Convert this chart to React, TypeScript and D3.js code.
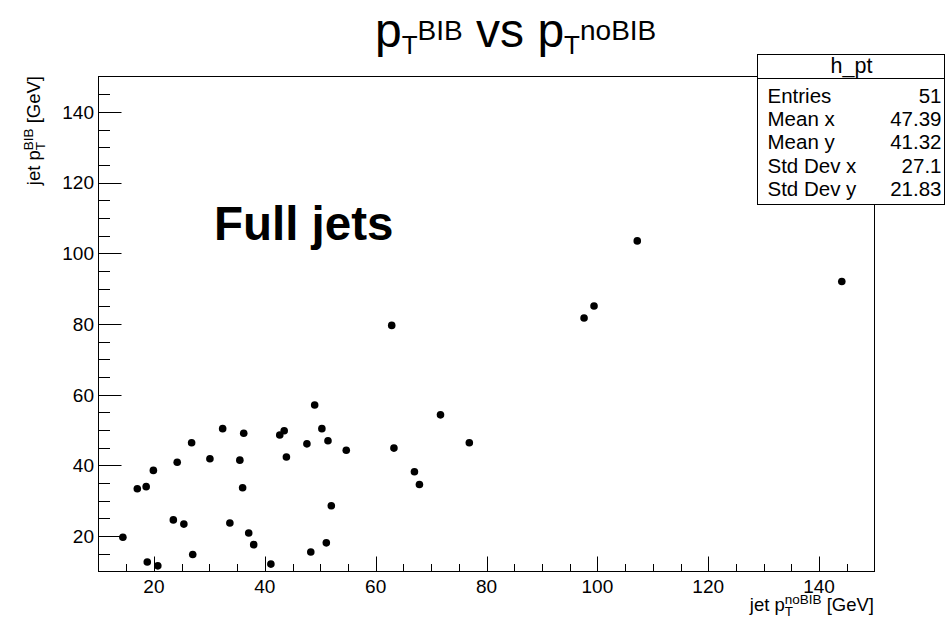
import React from "react";
import * as d3 from "d3";

// jet pT without BIB (x) and with BIB (y), in GeV
const ptNoBIB = [
  14.4, 17.0, 18.6, 19.9, 18.8, 20.7, 23.5, 24.2, 25.4, 26.8,
  27.0, 30.1, 32.4, 33.7, 35.5, 36.0, 36.2, 37.1, 38.0, 41.1,
  42.7, 43.5, 43.9, 47.6, 48.3, 49.0, 50.3, 51.1, 51.4, 52.0,
  54.7, 63.3, 62.9, 71.7, 76.9, 67.0, 67.9, 97.6, 99.4, 107.2,
  144.1,
];
const ptBIB = [
  19.7, 33.4, 34.0, 38.6, 12.7, 11.6, 24.6, 40.9, 23.4, 46.4,
  14.8, 41.9, 50.4, 23.7, 41.5, 33.7, 49.1, 20.9, 17.6, 12.1,
  48.6, 49.8, 42.4, 46.1, 15.5, 57.1, 50.4, 18.1, 47.0, 28.6,
  44.3, 44.9, 79.6, 54.3, 46.4, 38.2, 34.6, 81.7, 85.1, 103.5,
  92.0,
];
const majorTicks = [20, 40, 60, 80, 100, 120, 140];
const minorTicks = [15, 25, 30, 35, 45, 50, 55, 65, 70, 75, 85, 90, 95, 105, 110, 115, 125, 130, 135, 145];
const statLabels = ["Entries", "Mean x", "Mean y", "Std Dev x", "Std Dev y"];
const statValues = ["51", "47.39", "41.32", "27.1", "21.83"];
const statBaselines = [102.5, 126, 148.5, 172.5, 196];

const FONT = "'Liberation Sans', Arial, Helvetica, sans-serif";

export default function App() {
  const W = 946;
  const H = 620;
  const left = 98.5, right = 874.5, top = 76.5, bottom = 571.5;
  const x = d3.scaleLinear().domain([10, 150]).range([left, right]);
  const y = d3.scaleLinear().domain([10, 150]).range([bottom, top]);
  const yMaj = 23, yMin = 11.5, xMaj = 15, xMin = 7.5;
  const tickFs = 19;
  const titleFs = 18.5;
  const supFs = 13.5;
  const wT = 0.611 * supFs;
  const statFs = 20.5;

  return (
    <div style={{ position: "absolute", left: 0, top: 0 }}>
      <svg width={W} height={H} style={{ display: "block", background: "#fff" }} fontFamily={FONT}>
        <rect x={0} y={0} width={W} height={H} fill="#fff" />
        {/* frame */}
        <rect x={left} y={top} width={right - left} height={bottom - top} fill="none" stroke="#000" strokeWidth={1} />
        {/* y ticks */}
        {majorTicks.map((t) => (
          <g key={"ym" + t}>
            <line x1={left} x2={left + yMaj} y1={Math.round(y(t)) + 0.5} y2={Math.round(y(t)) + 0.5} stroke="#000" />
            <text x={94} y={y(t)} dy="0.36em" textAnchor="end" fontSize={tickFs} fill="#000">{t}</text>
          </g>
        ))}
        {minorTicks.map((t) => (
          <line key={"yn" + t} x1={left} x2={left + yMin} y1={Math.round(y(t)) + 0.5} y2={Math.round(y(t)) + 0.5} stroke="#000" />
        ))}
        {/* x ticks */}
        {majorTicks.map((t) => (
          <g key={"xm" + t}>
            <line x1={Math.round(x(t)) + 0.5} x2={Math.round(x(t)) + 0.5} y1={bottom} y2={bottom - xMaj} stroke="#000" />
            <text x={x(t)} y={592.5} textAnchor="middle" fontSize={tickFs} fill="#000">{t}</text>
          </g>
        ))}
        {minorTicks.map((t) => (
          <line key={"xn" + t} x1={Math.round(x(t)) + 0.5} x2={Math.round(x(t)) + 0.5} y1={bottom} y2={bottom - xMin} stroke="#000" />
        ))}
        {/* points */}
        {ptNoBIB.map((v, i) => (
          <circle key={"p" + i} cx={x(v)} cy={y(ptBIB[i])} r={3.8} fill="#000" />
        ))}
        {/* title */}
        <text x={375} y={47} fontSize={48} fill="#000">
          <tspan>p</tspan>
          <tspan fontSize={26} dy={7}>T</tspan>
          <tspan fontSize={28} dy={-14}>BIB</tspan>
          <tspan dy={7}>{" vs p"}</tspan>
          <tspan fontSize={26} dy={7}>T</tspan>
          <tspan fontSize={28} dy={-14}>noBIB</tspan>
        </text>
        {/* Full jets label */}
        <text x={214} y={240} fontSize={47.5} fontWeight="bold" fill="#000">Full jets</text>
        {/* x axis title */}
        <text x={874} y={611} textAnchor="end" fontSize={titleFs} fill="#000">
          <tspan>jet p</tspan>
          <tspan fontSize={supFs} dy={5}>T</tspan>
          <tspan fontSize={supFs} dx={-wT} dy={-12}>noBIB</tspan>
          <tspan dy={7}>{" [GeV]"}</tspan>
        </text>
        {/* y axis title */}
        <g transform="translate(40,76) rotate(-90)">
          <text x={0} y={0} textAnchor="end" fontSize={titleFs} fill="#000">
            <tspan>jet p</tspan>
            <tspan fontSize={supFs} dy={5}>T</tspan>
            <tspan fontSize={supFs} dx={-wT} dy={-12}>BIB</tspan>
            <tspan dy={7}>{" [GeV]"}</tspan>
          </text>
        </g>
        {/* stats box */}
        <rect x={757.5} y={54.5} width={187} height={150} fill="#fff" stroke="#000" strokeWidth={1} />
        <line x1={757.5} x2={944.5} y1={78.5} y2={78.5} stroke="#000" />
        <text x={851.5} y={72.5} textAnchor="middle" fontSize={21.5} fill="#000">h_pt</text>
        {statLabels.map((s, i) => (
          <g key={s}>
            <text x={767.5} y={statBaselines[i]} fontSize={statFs} fill="#000">{s}</text>
            <text x={941.5} y={statBaselines[i]} textAnchor="end" fontSize={statFs} fill="#000">{statValues[i]}</text>
          </g>
        ))}
      </svg>
    </div>
  );
}
